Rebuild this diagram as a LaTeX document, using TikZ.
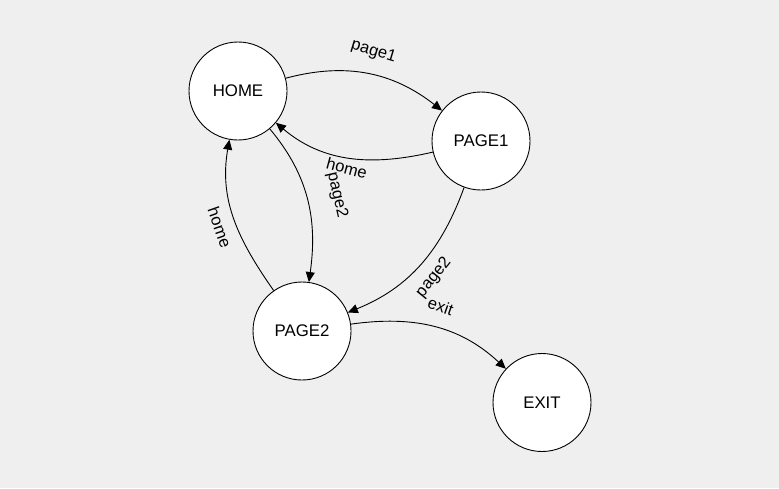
\documentclass[tikz,border=0pt]{standalone}
\usepackage{fontspec}
\setmainfont{Liberation Sans}
\usetikzlibrary{arrows.meta}

\begin{document}
\begin{tikzpicture}[x=1pt, y=1pt,
	state/.style={draw, fill=white, circle, minimum size=98pt, inner sep=0pt, line width=0.9pt, font=\fontsize{16.8}{19}\selectfont},
	trans/.style={-{Triangle[length=10pt, width=9pt]}, line width=0.9pt},
	lbl/.style={font=\fontsize{16.5}{19}\selectfont, inner sep=2pt, sloped}]

	% ---- background

	\fill[fill={rgb,255:red,239;green,239;blue,239}] (0,0) rectangle (779,-488);
	\useasboundingbox (0,0) rectangle (779,-488);

	% ---- states

	\node[state] (HOME)  at (238,-91)    {HOME};
	\node[state] (PAGE1) at (481,-141)   {PAGE1};
	\node[state] (PAGE2) at (302,-331)   {PAGE2};
	\node[state] (EXIT)  at (542,-402.5) {EXIT};

	% ---- transitions

	\draw[trans] (HOME)  to[out=15, in=142]
		node[lbl, pos=0.5, above=13pt, rotate=-5] {page1} (PAGE1);
	\draw[trans] (PAGE1) to[out=193, in=-40]
		node[lbl, pos=0.5, below=2pt, rotate=-6] {home} (HOME);
	\draw[trans] (HOME)  to[out=-50, in=82]
		node[lbl, pos=0.51, above=20pt] {page2} (PAGE2);
	\draw[trans] (PAGE2) to[out=125, in=-100]
		node[lbl, pos=0.48, below=8pt] {home} (HOME);
	\draw[trans] (PAGE1) to[out=-110, in=22]
		node[lbl, pos=0.51, below=9pt, rotate=4] {page2} (PAGE2);
	\draw[trans] (PAGE2) to[out=8, in=137]
		node[lbl, pos=0.5, above=13pt, rotate=-4] {exit} (EXIT);

\end{tikzpicture}
\end{document}
